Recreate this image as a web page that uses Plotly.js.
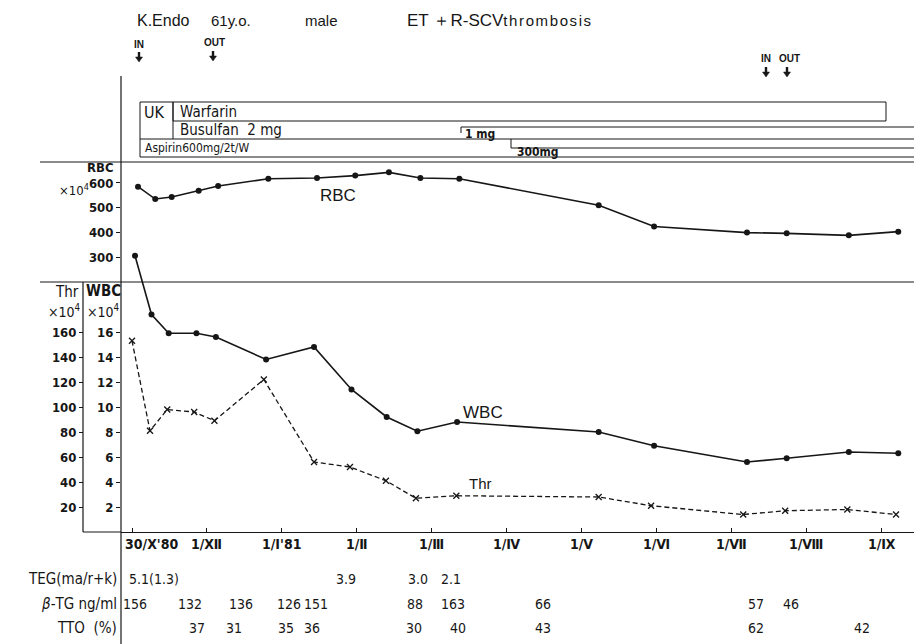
<!DOCTYPE html>
<html><head><meta charset="utf-8">
<script src="https://cdn.plot.ly/plotly-3.0.1.min.js"></script>
<style>html,body{margin:0;padding:0;background:#fff;}#chart{width:914px;height:644px;}</style>
</head><body><div id="chart"></div>
<script>
// ---------- data ----------
const tickMonths = [0,1,2,3,4,5,6,7,8,9,10];
const tickLabels = ["30/Ⅹ'80","1/Ⅻ","1/Ⅰ'81","1/Ⅱ","1/Ⅲ","1/Ⅳ","1/Ⅴ","1/Ⅵ","1/Ⅶ","1/Ⅷ","1/Ⅸ"];

const rbcMonth = [0.08,0.31,0.53,0.89,1.15,1.82,2.47,2.98,3.43,3.85,4.37,6.23,6.97,8.21,8.74,9.57,10.23];
const rbc      = [585,535,543,569,588,617,620,630,643,620,617,510,424,399,396,388,403];

const wbcMonth = [0.04,0.26,0.49,0.86,1.12,1.79,2.43,2.93,3.40,3.81,4.34,6.23,6.97,8.21,8.74,9.57,10.23];
const wbc      = [22.1,17.4,15.9,15.9,15.6,13.8,14.8,11.4,9.2,8.06,8.8,8.0,6.9,5.6,5.9,6.4,6.3];

const thrMonth = [0.0,0.24,0.47,0.83,1.10,1.76,2.43,2.91,3.39,3.79,4.33,6.23,6.93,8.16,8.72,9.55,10.2];
const thr      = [153,81,98,96,89,122,56,52,41,27,29,28,21,14,17,18,14];

const tegMonth = [0.29,2.86,3.82,4.26];
const teg      = ["5.1(1.3)","3.9","3.0","2.1"];
const btgMonth = [0.04,0.77,1.45,2.10,2.46,3.78,4.29,5.49,8.33,8.80];
const btg      = [156,132,136,126,151,88,163,66,57,46];
const ttoMonth = [0.87,1.36,2.05,2.40,3.77,4.35,5.49,8.33,9.74];
const tto      = [37,31,35,36,30,40,43,62,42];

const rbcTicks = [300,400,500,600];
const wbcTicks = [2,4,6,8,10,12,14,16];
const thrTicks = [20,40,60,80,100,120,140,160];

// ---------- helpers (pixel -> paper) ----------
const L=83, T=162, W=831, H=370;
const px = x => (x-L)/W;
const py = y => (T+H-y)/H;
const INK = '#161616';
const NARROW = '"DejaVu Sans Condensed","Liberation Sans Narrow","Liberation Sans","Noto Sans CJK JP",sans-serif';
const SANS = '"Liberation Sans","DejaVu Sans",sans-serif';

function line(x0,y0,x1,y1,w){return {type:'line',xref:'paper',yref:'paper',x0:px(x0),y0:py(y0),x1:px(x1),y1:py(y1),line:{color:INK,width:w||1}};}
function rect(x0,y0,x1,y1){return {type:'rect',xref:'paper',yref:'paper',x0:px(x0),y0:py(y0),x1:px(x1),y1:py(y1),line:{color:INK,width:1},fillcolor:'rgba(0,0,0,0)'};}
function txt(t,x,y,opt){opt=opt||{};return Object.assign({text:t,xref:'paper',yref:'paper',x:px(x),y:py(y),xanchor:'left',yanchor:'middle',showarrow:false,font:{family:NARROW,size:14,color:INK}},opt);}
function arrowShapes(x,y){
  const p = (a,b)=>px(a)+','+py(b);
  return [
    {type:'line',xref:'paper',yref:'paper',x0:px(x),y0:py(y-10),x1:px(x),y1:py(y-4),line:{color:INK,width:2.4}},
    {type:'path',xref:'paper',yref:'paper',path:'M'+p(x-3.5,y-5)+' L'+p(x+3.5,y-5)+' L'+p(x,y)+' Z',fillcolor:INK,line:{color:INK,width:0.5}}
  ];
}

const shapes = [
  line(121,76,121,644,1.2),
  line(40,162,914,162,1),
  line(40,282,914,282,1),
  line(83,282,83,532,1.2),
  line(83,532,121,532,1.2),
  // treatments
  rect(173,102,886,121),
  line(140,102,173,102), line(140,102,140,157), line(173,102,173,139),
  line(140,139,914,139),
  line(461,127,914,127), line(461,127,461,133),
  line(511,139,511,148), line(511,148,914,148),
  line(140,157,914,157)
].concat(arrowShapes(139,62), arrowShapes(213,61), arrowShapes(766,77), arrowShapes(787,77));

const ann = [
  txt('K.Endo',135,21,{font:{family:SANS,size:16,color:INK}}),
  txt('61y.o.',209,21,{font:{family:SANS,size:15,color:INK}}),
  txt('male',303,21,{font:{family:SANS,size:15,color:INK}}),
  txt('ET&nbsp;＋R-SCV<span style="font-size:15px;letter-spacing:1.6px">thrombosis</span>',405,21,{font:{family:SANS,size:17,color:INK}}),
  txt('IN',139,45,{xanchor:'center',font:{family:SANS,size:10,color:INK,weight:'bold'}}),
  txt('OUT',214,43,{xanchor:'center',font:{family:SANS,size:10,color:INK,weight:'bold'}}),
  txt('IN',766,58,{xanchor:'center',font:{family:SANS,size:10,color:INK,weight:'bold'}}),
  txt('OUT',789,58,{xanchor:'center',font:{family:SANS,size:10,color:INK,weight:'bold'}}),
  txt('UK',142,112,{font:{family:NARROW,size:16,color:INK}}),
  txt('Warfarin',178,112,{font:{family:NARROW,size:15,color:INK}}),
  txt('Busulfan&nbsp;&nbsp;2 mg',178,130,{font:{family:NARROW,size:15,color:INK}}),
  txt('Aspirin600mg/2t/W',143,148,{font:{family:NARROW,size:12,color:INK}}),
  txt('1 mg',463,134,{font:{family:NARROW,size:12,color:INK,weight:'bold'}}),
  txt('300mg',515,152,{font:{family:NARROW,size:12,color:INK,weight:'bold'}}),
  // axis titles
  txt('RBC',100,168,{xanchor:'center',font:{family:NARROW,size:13,color:INK,weight:'bold'}}),
  txt('×10<sup>4</sup>',91,190,{xanchor:'right',font:{family:NARROW,size:13,color:INK}}),
  txt('Thr',67,292,{xanchor:'center',font:{family:NARROW,size:15,color:INK}}),
  txt('×10<sup>4</sup>',64,311,{xanchor:'center',font:{family:NARROW,size:14,color:INK}}),
  txt('WBC',103,291,{xanchor:'center',font:{family:NARROW,size:15,color:INK,weight:'bold'}}),
  txt('×10<sup>4</sup>',103,311,{xanchor:'center',font:{family:NARROW,size:14,color:INK}}),
  // series labels
  txt('RBC',338,196,{xanchor:'center',font:{family:SANS,size:17,color:INK}}),
  txt('WBC',483,412,{xanchor:'center',font:{family:SANS,size:17,color:INK}}),
  txt('Thr',480,483,{xanchor:'center',font:{family:SANS,size:15,color:INK}}),
  // table row labels
  txt('TEG(ma/r+k)',119,579,{xanchor:'right',font:{family:NARROW,size:15,color:INK}}),
  txt('<i>β</i>-TG ng/ml',119,604,{xanchor:'right',font:{family:NARROW,size:15,color:INK}}),
  txt('TTO&nbsp;&nbsp;(%)',119,628,{xanchor:'right',font:{family:NARROW,size:15,color:INK}})
];

// x tick labels
tickLabels.forEach((t,i)=>{
  ann.push({text:t,xref:'x',yref:'paper',x:i===0?-0.12:tickMonths[i],y:py(544),xanchor:i===0?'left':'center',yanchor:'middle',showarrow:false,font:{family:NARROW,size:14,color:INK,weight:'bold'}});
});
function row(ms,vals,y){ms.forEach((m,i)=>ann.push({text:String(vals[i]),xref:'x',yref:'paper',x:m,y:py(y),xanchor:'center',yanchor:'middle',showarrow:false,font:{family:NARROW,size:14,color:INK}}));}
row(tegMonth,teg,579);
row(btgMonth,btg,604);
row(ttoMonth,tto,628);

const tickfont = {family:NARROW,size:13,color:INK,weight:'bold'};
const traces = [
  {x:rbcMonth,y:rbc,xaxis:'x',yaxis:'y',mode:'lines+markers',line:{color:INK,width:1.6},marker:{size:6,color:INK},name:'RBC'},
  {x:wbcMonth,y:wbc,xaxis:'x',yaxis:'y2',mode:'lines+markers',line:{color:INK,width:1.6},marker:{size:6,color:INK},name:'WBC'},
  {x:thrMonth,y:thr,xaxis:'x',yaxis:'y3',mode:'lines+markers',line:{color:INK,width:1.3,dash:'5px,3px'},marker:{size:6,symbol:'x-thin-open',color:INK,line:{width:1.3,color:INK}},name:'Thr'}
];
const yCommon = {showgrid:false,zeroline:false,showline:false,ticks:'outside',ticklen:4,tickcolor:INK,tickfont:tickfont,fixedrange:true};
const layout = {
  width:914,height:644,margin:{l:L,r:0,t:T,b:644-T-H,pad:0},
  paper_bgcolor:'#fff',plot_bgcolor:'rgba(0,0,0,0)',showlegend:false,
  xaxis:{domain:[px(121),1],range:[-0.147,10.44],anchor:'y2',showline:true,linecolor:INK,linewidth:1.2,ticks:'inside',ticklen:4,tickcolor:INK,tickvals:tickMonths,showticklabels:false,showgrid:false,zeroline:false,fixedrange:true},
  yaxis:Object.assign({},yCommon,{domain:[py(282),1],range:[199,685],tickvals:rbcTicks,anchor:'x'}),
  yaxis2:Object.assign({},yCommon,{domain:[0,1],range:[0,29.6],tickvals:wbcTicks,anchor:'x'}),
  yaxis3:Object.assign({},yCommon,{domain:[0,py(282)],range:[0,200],tickvals:thrTicks,anchor:'free',position:0}),
  shapes:shapes,annotations:ann
};
Plotly.newPlot('chart',traces,layout,{staticPlot:true,displayModeBar:false});
</script></body></html>
